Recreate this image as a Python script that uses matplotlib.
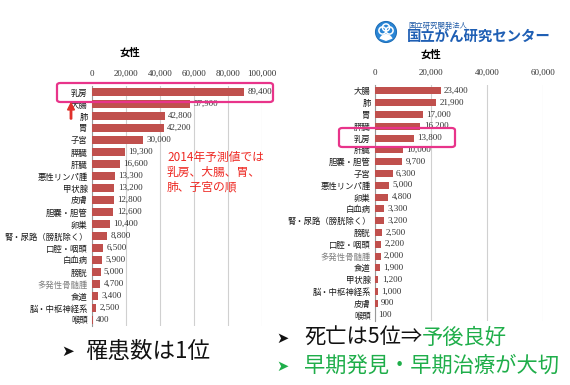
import matplotlib.pyplot as plt
from matplotlib.patches import FancyBboxPatch, Circle, FancyArrow, Wedge
from matplotlib.transforms import IdentityTransform

plt.rcParams['font.family'] = ['Noto Sans CJK JP', 'DejaVu Sans']

# Incidence (left), 2014 projection, women
inc_sites = ['乳房', '大腸', '肺', '胃', '子宮', '膵臓', '肝臓', '悪性リンパ腫', '甲状腺', '皮膚',
             '胆嚢・胆管', '卵巣', '腎・尿路（膀胱除く）', '口腔・咽頭', '白血病', '膀胱',
             '多発性骨髄腫', '食道', '脳・中枢神経系', '喉頭']
inc_vals = [89400, 57900, 42800, 42200, 30000, 19300, 16600, 13300, 13200, 12800,
            12600, 10400, 8800, 6500, 5900, 5000, 4700, 3400, 2500, 400]
inc_ticks = [0, 20000, 40000, 60000, 80000, 100000]

# Deaths (right)
dth_sites = ['大腸', '肺', '胃', '膵臓', '乳房', '肝臓', '胆嚢・胆管', '子宮', '悪性リンパ腫', '卵巣',
             '白血病', '腎・尿路（膀胱除く）', '膀胱', '口腔・咽頭', '多発性骨髄腫', '食道',
             '甲状腺', '脳・中枢神経系', '皮膚', '喉頭']
dth_vals = [23400, 21900, 17000, 16200, 13800, 10000, 9700, 6300, 5000, 4800,
            3300, 3200, 2500, 2200, 2000, 1900, 1200, 1000, 900, 100]
dth_ticks = [0, 20000, 40000, 60000]

W, H = 570, 385
fig = plt.figure(figsize=(W / 100, H / 100), dpi=100)
fig.patch.set_facecolor('white')

bar_col = '#c0504d'
num_font = 'Liberation Serif'
green = '#1fae4a'


def px(x, y, w, h):
    return [x / W, 1 - (y + h) / H, w / W, h / H]


def draw(ax, sites, vals, ticks, xmax):
    n = len(sites)
    ax.barh(range(n), vals, height=0.6, color=bar_col, zorder=3)
    ax.set_ylim(n - 0.5, -0.5)
    ax.set_xlim(0, xmax)
    ax.set_yticks(range(n))
    ax.set_yticklabels(sites, fontsize=6)
    for t, s in zip(ax.get_yticklabels(), sites):
        t.set_color('#808080' if s == '多発性骨髄腫' else '#1a1a1a')
    ax.xaxis.tick_top()
    ax.set_xticks(ticks)
    ax.set_xticklabels([f'{t:,}' for t in ticks], fontsize=6.5, family=num_font, color='#333333')
    ax.tick_params(length=0, pad=3)
    ax.tick_params(axis='x', pad=6)
    ax.grid(axis='x', color='#d0d0d0', lw=0.8, zorder=0)
    for s in ['top', 'right', 'bottom']:
        ax.spines[s].set_visible(False)
    ax.spines['left'].set_color('#999999')
    for i, v in enumerate(vals):
        ax.text(v + xmax * 0.02, i, f'{v:,}', va='center', fontsize=6.5, family=num_font,
                color='#333333', zorder=4)


axL = fig.add_axes(px(92, 86, 170, 240))
draw(axL, inc_sites, inc_vals, inc_ticks, 100000)
fig.text(130 / W, 1 - 53 / H, '女性', fontsize=7.5, weight='bold', ha='center', va='center')

axR = fig.add_axes(px(375, 85, 168, 236))
draw(axR, dth_sites, dth_vals, dth_ticks, 60000)
fig.text(431 / W, 1 - 55 / H, '女性', fontsize=7.5, weight='bold', ha='center', va='center')

# highlight boxes
for (x0, y0, x1, y1) in [(57, 83, 273, 102), (339, 128, 455, 147)]:
    fig.patches.append(FancyBboxPatch((x0 / W, 1 - y1 / H), (x1 - x0) / W, (y1 - y0) / H,
                                      boxstyle='round,pad=0,rounding_size=0.006',
                                      transform=fig.transFigure, fill=False,
                                      ec='#e8348a', lw=1.6))

# red arrow and annotation
fig.patches.append(FancyArrow(
    71 / W, 1 - 119 / H, 0, 16 / H, width=0.0025, head_width=0.012, head_length=0.018,
    length_includes_head=True, transform=fig.transFigure, color='#e0302a'))
fig.text(167 / W, 1 - 151 / H, '2014年予測値では\n乳房、大腸、胃、\n肺、子宮の順',
         fontsize=8.5, color='#ee2a24', va='top', ha='left', linespacing=1.2)

# logo (pixel coordinates, y from bottom)
idt = IdentityTransform()
cx, cy = 386, H - 32
fig.patches.append(Circle((cx, cy), 10.5, transform=idt, fc='#2a86d6', ec='#1f6fb8', lw=0.8))
for dx, dy in [(-3.5, 1.5), (3.5, 1.5), (0, 4.5)]:
    fig.patches.append(Circle((cx + dx, cy + dy), 3.6, transform=idt, fill=False,
                              ec='white', lw=1.1))
fig.patches.append(Wedge((cx, cy - 9), 7, 20, 160, transform=idt, fc='white', ec='none'))
fig.text(408 / W, 1 - 26 / H, '国立研究開発法人', fontsize=5.3, color='#1f5aa6', va='center')
fig.text(407 / W, 1 - 37 / H, '国立がん研究センター', fontsize=10.4, color='#1f5fb4',
         va='center', weight='bold')

# bullet texts
fig.text(61 / W, 1 - 351 / H, '➤', fontsize=11, family='DejaVu Sans', va='center', color='#111111')
fig.text(85 / W, 1 - 351 / H, '罹患数は1位', fontsize=16.2, va='center', color='#111111')
fig.text(276 / W, 1 - 338 / H, '➤', fontsize=10.5, family='DejaVu Sans', va='center', color='#111111')
t1 = fig.text(304 / W, 1 - 338 / H, '死亡は5位⇒', fontsize=15.3, va='center', color='#111111',
              family=['Noto Sans CJK JP', 'DejaVu Sans'])
r = fig.canvas.get_renderer()
x_end = t1.get_window_extent(renderer=r).x1
fig.text(x_end / W, 1 - 338 / H, '予後良好', fontsize=15.3, va='center', color=green)
fig.text(276 / W, 1 - 366 / H, '➤', fontsize=10.5, family='DejaVu Sans', va='center', color=green)
fig.text(304 / W, 1 - 366 / H, '早期発見・早期治療が大切', fontsize=15.3, va='center', color=green)

fig.savefig('out.png', dpi=100)
